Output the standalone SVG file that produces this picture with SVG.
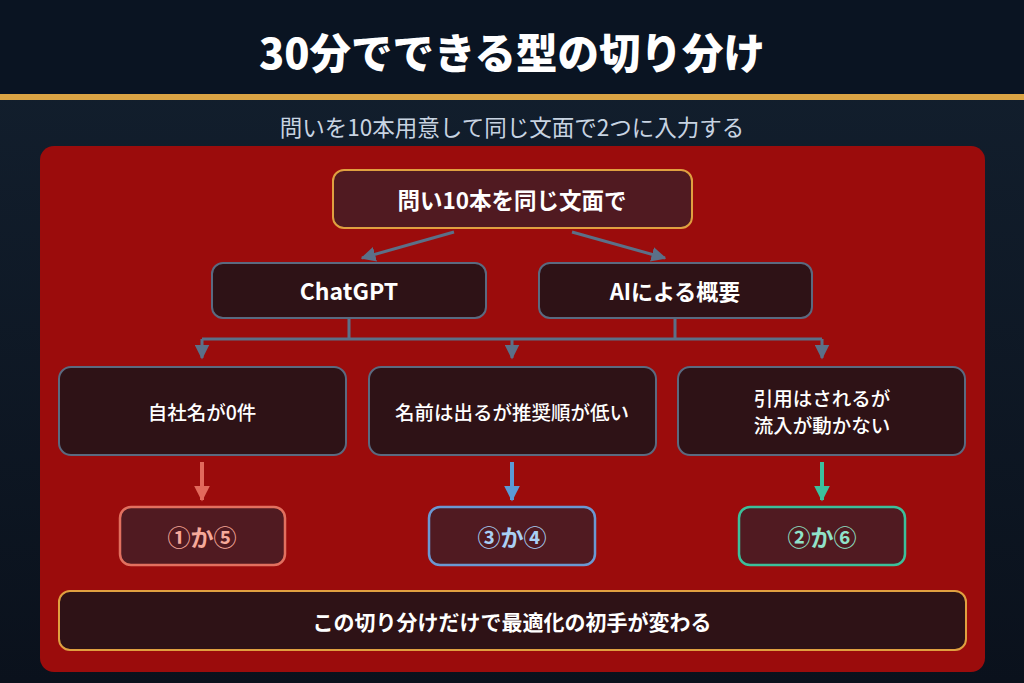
<svg xmlns="http://www.w3.org/2000/svg" width="1024" height="683" viewBox="0 0 1024 683">
<defs>
<linearGradient id="bg" x1="0" y1="0" x2="0" y2="1">
<stop offset="0" stop-color="#13202f"/>
<stop offset="1" stop-color="#0a111c"/>
</linearGradient>
<marker id="ag" viewBox="0 0 10 10" refX="9" refY="5" markerWidth="5" markerHeight="5" orient="auto" markerUnits="strokeWidth"><path d="M0,0 L10,5 L0,10 z" fill="#5b7088"/></marker>
<marker id="ar" viewBox="0 0 10 10" refX="9" refY="5" markerWidth="4" markerHeight="4" orient="auto" markerUnits="strokeWidth"><path d="M0,0 L10,5 L0,10 z" fill="#e2695c"/></marker>
<marker id="ab" viewBox="0 0 10 10" refX="9" refY="5" markerWidth="4" markerHeight="4" orient="auto" markerUnits="strokeWidth"><path d="M0,0 L10,5 L0,10 z" fill="#5b9ad6"/></marker>
<marker id="an" viewBox="0 0 10 10" refX="9" refY="5" markerWidth="4" markerHeight="4" orient="auto" markerUnits="strokeWidth"><path d="M0,0 L10,5 L0,10 z" fill="#3cc09e"/></marker>
<style>
text{font-family:"Noto Sans CJK JP","Noto Sans",sans-serif;text-anchor:middle;dominant-baseline:central}
.b{font-weight:700;fill:#fff}
.box{fill:#2e1216;stroke:#5a6a80;stroke-width:2}
.gold{stroke:#e0a040;stroke-width:2}
.conn{stroke:#5b7088;stroke-width:3;fill:none}
.mid{font-size:19.5px;fill:#fff;font-weight:500}
.res{font-size:23px;font-weight:700}
</style>
</defs>
<rect width="1024" height="683" fill="url(#bg)"/>
<rect width="1024" height="95" fill="#0a1422"/>
<rect y="94" width="1024" height="6" fill="#dba444"/>
<text x="512" y="51" class="b" style="font-size:41.5px;font-weight:900">30分でできる型の切り分け</text>
<text x="512" y="126" style="font-size:22.5px;fill:#c8d4e2">問いを10本用意して同じ文面で2つに入力する</text>
<rect x="40" y="146" width="945" height="526" rx="14" fill="#9b0c0c"/>

<g id="connectors">
<line class="conn" x1="454" y1="232" x2="362" y2="258" marker-end="url(#ag)"/>
<line class="conn" x1="572" y1="232" x2="665" y2="258" marker-end="url(#ag)"/>
<line class="conn" x1="349" y1="318" x2="349" y2="339"/>
<line class="conn" x1="675" y1="318" x2="675" y2="339"/>
<line class="conn" x1="202" y1="339" x2="822" y2="339"/>
<line class="conn" x1="202" y1="339" x2="202" y2="358" marker-end="url(#ag)"/>
<line class="conn" x1="512" y1="339" x2="512" y2="358" marker-end="url(#ag)"/>
<line class="conn" x1="822" y1="339" x2="822" y2="358" marker-end="url(#ag)"/>
<line x1="202" y1="462" x2="202" y2="500" stroke="#e2695c" stroke-width="4" marker-end="url(#ar)"/>
<line x1="512" y1="462" x2="512" y2="500" stroke="#5b9ad6" stroke-width="4" marker-end="url(#ab)"/>
<line x1="822" y1="462" x2="822" y2="500" stroke="#3cc09e" stroke-width="4" marker-end="url(#an)"/>
</g>

<g id="top">
<rect x="333" y="170" width="359" height="58" rx="11" fill="#501a21" class="gold"/>
<text x="512" y="199" class="b" style="font-size:22.5px">問い10本を同じ文面で</text>
</g>
<g id="chatgpt">
<rect x="212" y="263" width="274" height="55" rx="11" class="box"/>
<text x="349" y="290" class="b" style="font-size:23px">ChatGPT</text>
</g>
<g id="aio">
<rect x="539" y="263" width="273" height="55" rx="11" class="box"/>
<text x="675" y="290" class="b" style="font-size:22px">AIによる概要</text>
</g>

<g id="case1">
<rect x="59" y="367" width="287" height="88" rx="12" class="box"/>
<text x="202" y="411" class="mid">自社名が0件</text>
</g>
<g id="case2">
<rect x="369" y="367" width="287" height="88" rx="12" class="box"/>
<text x="512" y="411" class="mid">名前は出るが推奨順が低い</text>
</g>
<g id="case3">
<rect x="678" y="367" width="287" height="88" rx="12" class="box"/>
<text x="822" y="397" class="mid">引用はされるが</text>
<text x="822" y="424" class="mid">流入が動かない</text>
</g>

<g id="res1">
<rect x="120" y="507" width="165" height="58" rx="11" fill="#501a21" stroke="#e2705f" stroke-width="2.5"/>
<text x="202" y="536" class="res" fill="#f6a99a">①か⑤</text>
</g>
<g id="res2">
<rect x="429" y="507" width="166" height="58" rx="11" fill="#501a21" stroke="#6b98d2" stroke-width="2.5"/>
<text x="512" y="536" class="res" fill="#a9cff4">③か④</text>
</g>
<g id="res3">
<rect x="739" y="507" width="166" height="58" rx="11" fill="#501a21" stroke="#3cbf9a" stroke-width="2.5"/>
<text x="822" y="536" class="res" fill="#90e2c9">②か⑥</text>
</g>

<g id="summary">
<rect x="59" y="591" width="907" height="59" rx="11" fill="#2e1216" class="gold"/>
<text x="512" y="621" class="b" style="font-size:21px">この切り分けだけで最適化の初手が変わる</text>
</g>
</svg>
